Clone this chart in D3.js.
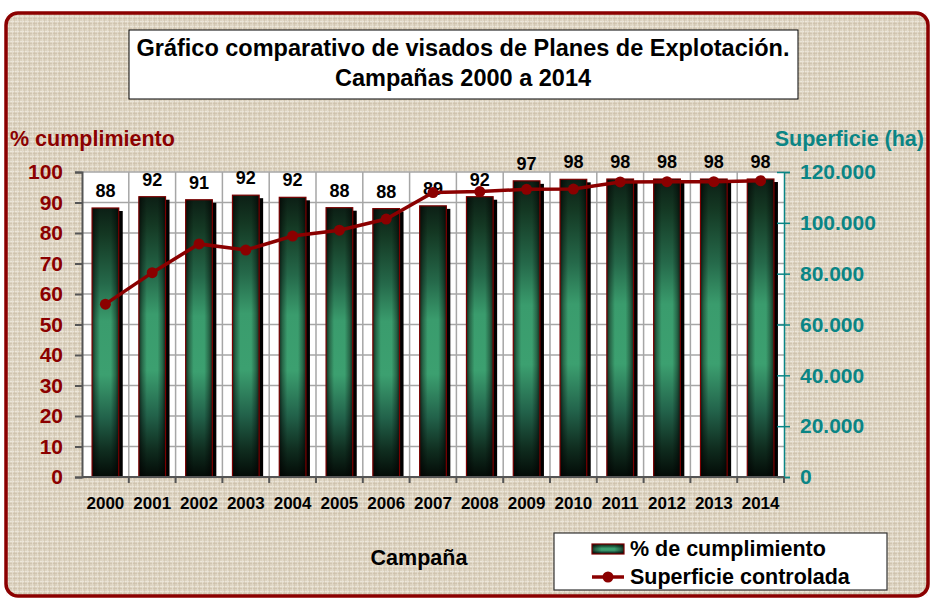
<!DOCTYPE html>
<html>
<head>
<meta charset="utf-8">
<script src="https://cdn.jsdelivr.net/npm/d3@7/dist/d3.min.js"></script>
<style>
  body { margin: 0; background: #fff; }
  text { font-family: "Liberation Sans", Arial, sans-serif; font-weight: bold; }
</style>
</head>
<body>
<script>
var years = ["2000","2001","2002","2003","2004","2005","2006","2007","2008","2009","2010","2011","2012","2013","2014"];
var cumplimiento = [88.2, 91.9, 90.9, 92.4, 91.7, 88.3, 88.0, 88.9, 91.9, 97.1, 97.6, 97.7, 97.7, 97.7, 97.7];
var superficie = [68000, 80400, 91700, 89300, 94800, 97100, 101500, 111900, 112300, 113200, 113300, 116100, 116200, 116200, 116600];
var leftTicks = [0,10,20,30,40,50,60,70,80,90,100];
var rightTicks = [0,20000,40000,60000,80000,100000,120000];

var width = 931, height = 599;
var plotL = 82, plotR = 784, plotT = 172, plotB = 477;
var red = "#8b0000", teal = "#0a8585";

var svg = d3.select("body").append("svg")
            .attr("width", width)
            .attr("height", height);

var defs = svg.append("defs");

// linen texture
var pat = defs.append("pattern").attr("id", "cloth")
              .attr("patternUnits", "userSpaceOnUse")
              .attr("width", 5).attr("height", 5);
pat.append("rect").attr("width", 5).attr("height", 5).attr("fill", "#ded5c3");
pat.append("rect").attr("x", 0).attr("y", 1).attr("width", 5).attr("height", 1).attr("fill", "#eee8dc");
pat.append("rect").attr("x", 0).attr("y", 3).attr("width", 5).attr("height", 1).attr("fill", "#cdc1ab").attr("opacity", 0.7);
pat.append("rect").attr("x", 2).attr("y", 0).attr("width", 1).attr("height", 5).attr("fill", "#ebe4d6").attr("opacity", 0.7);
pat.append("rect").attr("x", 4).attr("y", 0).attr("width", 1).attr("height", 5).attr("fill", "#cbbfa8").attr("opacity", 0.5);

var noise = defs.append("filter").attr("id", "noise").attr("x", 0).attr("y", 0).attr("width", "100%").attr("height", "100%");
noise.append("feTurbulence").attr("type", "fractalNoise").attr("baseFrequency", "0.8 0.3").attr("numOctaves", 2).attr("seed", 3);
noise.append("feColorMatrix").attr("type", "matrix")
     .attr("values", "0 0 0 0 0.55  0 0 0 0 0.48  0 0 0 0 0.38  0 0 0 -1.6 1.0");

var gv = defs.append("linearGradient").attr("id", "barV")
             .attr("x1", 0).attr("y1", 0).attr("x2", 0).attr("y2", 1);
[[0, "#0c1f15"], [0.1, "#143823"], [0.28, "#25694a"], [0.42, "#3a9c6d"], [0.62, "#3ca070"], [0.78, "#22624a"], [0.9, "#102e20"], [1, "#030a06"]]
  .forEach(function(s){ gv.append("stop").attr("offset", s[0]).attr("stop-color", s[1]); });

var gh = defs.append("linearGradient").attr("id", "barH")
             .attr("x1", 0).attr("y1", 0).attr("x2", 1).attr("y2", 0);
[[0, 0.7], [0.12, 0.35], [0.3, 0], [0.7, 0], [0.88, 0.35], [1, 0.7]]
  .forEach(function(s){ gh.append("stop").attr("offset", s[0]).attr("stop-color", "#000").attr("stop-opacity", s[1]); });

// frame
svg.append("rect").attr("x", 6).attr("y", 13).attr("width", 922).attr("height", 583)
   .attr("rx", 12).attr("fill", "url(#cloth)");
svg.append("rect").attr("x", 6).attr("y", 13).attr("width", 922).attr("height", 583)
   .attr("rx", 12).attr("fill", "#fff").attr("filter", "url(#noise)").attr("opacity", 0.3);
svg.append("rect").attr("x", 6).attr("y", 13).attr("width", 922).attr("height", 583)
   .attr("rx", 12).attr("fill", "none").attr("stroke", red).attr("stroke-width", 3.5);

// title
svg.append("rect").attr("x", 129).attr("y", 30).attr("width", 669).attr("height", 69)
   .attr("fill", "#fff").attr("stroke", "#000").attr("stroke-width", 1);
svg.append("text").attr("x", 463).attr("y", 56).attr("text-anchor", "middle")
   .attr("font-size", 23.5).text("Gráfico comparativo de visados de Planes de Explotación.");
svg.append("text").attr("x", 463).attr("y", 86).attr("text-anchor", "middle")
   .attr("font-size", 23.5).text("Campañas 2000 a 2014");

// scales
var x = d3.scaleBand().domain(years).range([plotL, plotR]).paddingInner(0.43).paddingOuter(0.215);
var y = d3.scaleLinear().domain([0, 100]).range([plotB, plotT]);
var y2 = d3.scaleLinear().domain([0, 120000]).range([plotB, plotT]);

// plot area
svg.append("rect").attr("x", plotL).attr("y", plotT).attr("width", plotR - plotL).attr("height", plotB - plotT)
   .attr("fill", "#fff");

svg.append("g").selectAll("line").data(leftTicks).enter().append("line")
   .attr("x1", plotL).attr("x2", plotR)
   .attr("y1", function(d){ return y(d); }).attr("y2", function(d){ return y(d); })
   .attr("stroke", "#a6a6a6").attr("stroke-width", 1.5);

var step = x.step();
svg.append("g").selectAll("line").data(years.slice(1)).enter().append("line")
   .attr("x1", function(d){ return x(d) - x.paddingInner() * step / 2; })
   .attr("x2", function(d){ return x(d) - x.paddingInner() * step / 2; })
   .attr("y1", plotT).attr("y2", plotB)
   .attr("stroke", "#a6a6a6").attr("stroke-width", 1.5);

// bars
var bars = svg.append("g");
bars.selectAll(".shadow").data(cumplimiento).enter().append("rect")
    .attr("x", function(d, i){ return x(years[i]) + 4; })
    .attr("y", function(d){ return y(d) + 3; })
    .attr("width", x.bandwidth())
    .attr("height", function(d){ return plotB - y(d) - 3; })
    .attr("fill", "#000");
bars.selectAll(".bar").data(cumplimiento).enter().append("rect")
    .attr("x", function(d, i){ return x(years[i]); })
    .attr("y", function(d){ return y(d); })
    .attr("width", x.bandwidth())
    .attr("height", function(d){ return plotB - y(d); })
    .attr("fill", "url(#barV)");
bars.selectAll(".barh").data(cumplimiento).enter().append("rect")
    .attr("x", function(d, i){ return x(years[i]); })
    .attr("y", function(d){ return y(d); })
    .attr("width", x.bandwidth())
    .attr("height", function(d){ return plotB - y(d); })
    .attr("fill", "url(#barH)")
    .attr("stroke", "#7a0000").attr("stroke-width", 1.2);

// value labels
svg.append("g").selectAll("text").data(cumplimiento).enter().append("text")
   .attr("x", function(d, i){ return x(years[i]) + x.bandwidth() / 2; })
   .attr("y", function(d){ return y(d) - 11; })
   .attr("text-anchor", "middle").attr("font-size", 18).attr("fill", "#000")
   .text(function(d){ return d3.format(".0f")(d); });

// line
var line = d3.line()
             .x(function(d, i){ return x(years[i]) + x.bandwidth() / 2; })
             .y(function(d){ return y2(d); });
svg.append("path").datum(superficie).attr("d", line)
   .attr("fill", "none").attr("stroke", red).attr("stroke-width", 3.5);
svg.append("g").selectAll("circle").data(superficie).enter().append("circle")
   .attr("cx", function(d, i){ return x(years[i]) + x.bandwidth() / 2; })
   .attr("cy", function(d){ return y2(d); })
   .attr("r", 5.5).attr("fill", red);

// left axis
var ax = svg.append("g").attr("transform", "translate(" + plotL + ",0)")
            .call(d3.axisLeft(y).tickValues(leftTicks).tickSize(7).tickPadding(12));
ax.select(".domain").attr("stroke", "#555").attr("stroke-width", 2);
ax.selectAll(".tick line").attr("stroke", "#555").attr("stroke-width", 2);
ax.selectAll("text").attr("fill", red).attr("font-size", 21)
  .attr("font-family", "Liberation Sans, Arial, sans-serif").attr("font-weight", "bold");

// right axis
var ar = svg.append("g").attr("transform", "translate(" + plotR + ",0)")
            .call(d3.axisRight(y2).tickValues(rightTicks).tickSize(6).tickPadding(10)
                    .tickFormat(function(d){ return d3.format(",")(d).replace(/,/g, "."); }));
ar.select(".domain").attr("stroke", teal).attr("stroke-width", 1.5);
ar.selectAll(".tick line").attr("x1", -7).attr("stroke", teal).attr("stroke-width", 1.5);
ar.selectAll("text").attr("fill", teal).attr("font-size", 21)
  .attr("font-family", "Liberation Sans, Arial, sans-serif").attr("font-weight", "bold");

// bottom axis
svg.append("line").attr("x1", plotL).attr("x2", plotR).attr("y1", plotB).attr("y2", plotB)
   .attr("stroke", "#555").attr("stroke-width", 2);
svg.append("g").selectAll("line").data(years).enter().append("line")
   .attr("x1", function(d, i){ return plotL + step * (i + 1); })
   .attr("x2", function(d, i){ return plotL + step * (i + 1); })
   .attr("y1", plotB).attr("y2", plotB + 6)
   .attr("stroke", "#555").attr("stroke-width", 2);
svg.append("g").selectAll("text").data(years).enter().append("text")
   .attr("x", function(d){ return x(d) + x.bandwidth() / 2; })
   .attr("y", 509)
   .attr("text-anchor", "middle").attr("font-size", 17).attr("fill", "#000")
   .text(function(d){ return d; });

// axis titles
svg.append("text").attr("x", 10).attr("y", 146).attr("font-size", 21.5).attr("fill", red).text("% cumplimiento");
svg.append("text").attr("x", 924).attr("y", 146).attr("text-anchor", "end").attr("font-size", 21.5)
   .attr("fill", teal).text("Superficie (ha)");
svg.append("text").attr("x", 419).attr("y", 565).attr("text-anchor", "middle").attr("font-size", 21.5)
   .attr("fill", "#000").text("Campaña");

// legend
var lg = svg.append("g");
lg.append("rect").attr("x", 554).attr("y", 533).attr("width", 333).attr("height", 57)
  .attr("fill", "#fff").attr("stroke", "#333").attr("stroke-width", 1.2);
lg.append("rect").attr("x", 592).attr("y", 544).attr("width", 32).attr("height", 10).attr("fill", "url(#barV)");
lg.append("rect").attr("x", 592).attr("y", 544).attr("width", 32).attr("height", 10)
  .attr("fill", "url(#barH)").attr("stroke", "#7a0000").attr("stroke-width", 1.2);
lg.append("text").attr("x", 630).attr("y", 556).attr("font-size", 21.5).attr("fill", "#000").text("% de cumplimiento");
lg.append("line").attr("x1", 592).attr("x2", 624).attr("y1", 577).attr("y2", 577)
  .attr("stroke", red).attr("stroke-width", 3.5);
lg.append("circle").attr("cx", 608).attr("cy", 577).attr("r", 5.5).attr("fill", red);
lg.append("text").attr("x", 630).attr("y", 584).attr("font-size", 21.5).attr("fill", "#000").text("Superficie controlada");
</script>
</body>
</html>
